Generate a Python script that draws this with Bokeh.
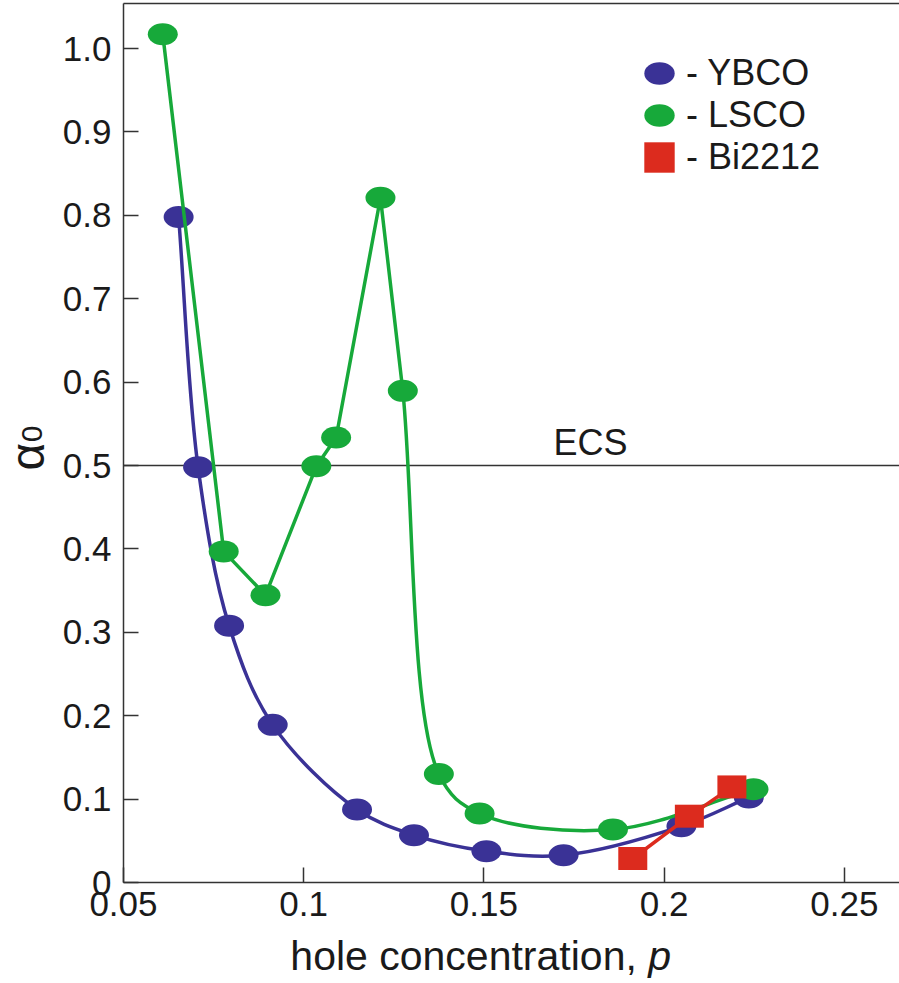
import numpy as np
from bokeh.plotting import figure
from bokeh.models import Range1d, FixedTicker, Label, Legend, LegendItem
from bokeh.embed import file_html
from bokeh.resources import INLINE

# --- data -------------------------------------------------------------
ybco_p = [0.0653, 0.0707, 0.0793, 0.0914, 0.1148, 0.1306, 0.1507, 0.1721, 0.2048, 0.2235]
ybco_a = [0.798, 0.498, 0.308, 0.189, 0.0875, 0.0567, 0.0375, 0.0327, 0.0675, 0.102]

lsco_p = [0.0609, 0.0778, 0.0894, 0.1035, 0.1090, 0.1213, 0.1275, 0.1375, 0.1488, 0.1858, 0.2248]
lsco_a = [1.017, 0.397, 0.3445, 0.499, 0.5336, 0.821, 0.5895, 0.130, 0.0827, 0.0635, 0.1119]
lsco_smooth_from = 6  # index where the LSCO trace turns into a smooth curve

bi_p = [0.1913, 0.2070, 0.2188]
bi_a = [0.0288, 0.0795, 0.1146]

ecs_level = 0.5

x_ticks = [0.05, 0.1, 0.15, 0.2, 0.25]
x_tick_labels = ["0.05", "0.1", "0.15", "0.2", "0.25"]
y_ticks = [0.0, 0.1, 0.2, 0.3, 0.4, 0.5, 0.6, 0.7, 0.8, 0.9, 1.0]
y_tick_labels = ["0", "0.1", "0.2", "0.3", "0.4", "0.5", "0.6", "0.7", "0.8", "0.9", "1.0"]

# --- style ------------------------------------------------------------
FONT = "Liberation Sans"
BLUE = "#3a3296"
GREEN = "#17a93a"
RED = "#dc2b1e"
INK = "#333333"
TEXT = "#1a1a1a"

# plotting box in data units; the canvas also holds the tick labels and titles
BOX_X = (0.05, 0.2653)
BOX_Y = (0.0, 1.054)
W, H = 899, 983
X0, X1 = 0.05 - 123 / 3605, BOX_X[1]
Y0, Y1 = -101 / 834, 882 / 834

p = figure(frame_width=W, frame_height=H,
           min_border_left=0, min_border_right=0,
           min_border_top=0, min_border_bottom=0,
           x_range=Range1d(X0, X1), y_range=Range1d(Y0, Y1),
           output_backend="svg", toolbar_location=None)
p.xgrid.visible = False
p.ygrid.visible = False
p.outline_line_color = None
p.background_fill_color = "white"
p.border_fill_color = "white"

for ax, ticks, labels, bounds in ((p.xaxis[0], x_ticks, x_tick_labels, BOX_X),
                                  (p.yaxis[0], y_ticks, y_tick_labels, BOX_Y)):
    ax.ticker = FixedTicker(ticks=ticks)
    ax.major_label_overrides = {t: l for t, l in zip(ticks, labels)}
    ax.bounds = bounds
    ax.axis_line_color = INK
    ax.axis_line_width = 1.5
    ax.major_tick_line_color = INK
    ax.major_tick_line_width = 1.5
    ax.major_tick_in = 15
    ax.major_tick_out = 0
    ax.minor_tick_line_color = None
    ax.major_label_text_font = FONT
    ax.major_label_text_font_size = "35px"
    ax.major_label_text_color = TEXT
p.xaxis.fixed_location = BOX_Y[0]
p.yaxis.fixed_location = BOX_X[0]
p.xaxis.major_label_standoff = 9
p.yaxis.major_label_standoff = 12

# top edge of the box (no right-hand edge)
p.segment(x0=[BOX_X[0]], x1=[BOX_X[1]], y0=[BOX_Y[1]], y1=[BOX_Y[1]],
          line_color=INK, line_width=1.5)


def smooth_path(xs, ys, lead=None):
    """Centripetal Catmull-Rom through the points, as cubic Bezier pieces."""
    sx = W / (X1 - X0)
    sy = H / (Y1 - Y0)
    P = np.column_stack([np.asarray(xs) * sx, np.asarray(ys) * sy])
    before = 2 * P[0] - P[1] if lead is None else np.array([lead[0] * sx, lead[1] * sy])
    after = 2 * P[-1] - P[-2]
    E = np.vstack([before, P, after])
    seg = {k: [] for k in ("x0", "y0", "x1", "y1", "cx0", "cy0", "cx1", "cy1")}
    for i in range(1, len(E) - 2):
        p0, p1, p2, p3 = E[i - 1], E[i], E[i + 1], E[i + 2]
        d1 = np.linalg.norm(p1 - p0) ** 0.5
        d2 = np.linalg.norm(p2 - p1) ** 0.5
        d3 = np.linalg.norm(p3 - p2) ** 0.5
        b1 = (d1**2 * p2 - d2**2 * p0 + (2 * d1**2 + 3 * d1 * d2 + d2**2) * p1) / (3 * d1 * (d1 + d2))
        b2 = (d3**2 * p1 - d2**2 * p3 + (2 * d3**2 + 3 * d3 * d2 + d2**2) * p2) / (3 * d3 * (d3 + d2))
        for key, pt in (("0", p1), ("1", p2)):
            seg["x" + key].append(pt[0] / sx)
            seg["y" + key].append(pt[1] / sy)
        seg["cx0"].append(b1[0] / sx)
        seg["cy0"].append(b1[1] / sy)
        seg["cx1"].append(b2[0] / sx)
        seg["cy1"].append(b2[1] / sy)
    return seg


# ECS reference line across the box
p.segment(x0=[BOX_X[0]], x1=[BOX_X[1]], y0=[ecs_level], y1=[ecs_level],
          line_color=INK, line_width=1.5)
p.add_layout(Label(x=0.1693, y=0.527, text="ECS", text_baseline="alphabetic",
                   text_font=FONT, text_font_size="36px", text_color=TEXT))

# YBCO
p.bezier(line_color=BLUE, line_width=3.5, **smooth_path(ybco_p, ybco_a))
r_ybco = p.ellipse(ybco_p, ybco_a, width=30, height=22, width_units="screen",
                   height_units="screen", fill_color=BLUE, line_color=None)

# LSCO: straight segments up to the peak region, then a smooth tail
k = lsco_smooth_from
p.line(lsco_p[:k + 1], lsco_a[:k + 1], line_color=GREEN, line_width=3.5, line_join="round")
p.bezier(line_color=GREEN, line_width=3.5,
         **smooth_path(lsco_p[k:], lsco_a[k:], lead=(lsco_p[k - 1], lsco_a[k - 1])))
r_lsco = p.ellipse(lsco_p, lsco_a, width=30, height=22, width_units="screen",
                   height_units="screen", fill_color=GREEN, line_color=None)

# Bi2212
p.line(bi_p, bi_a, line_color=RED, line_width=3.5)
r_bi = p.rect(bi_p, bi_a, width=29, height=23, width_units="screen",
              height_units="screen", fill_color=RED, line_color=None)

legend = Legend(items=[LegendItem(label="- YBCO", renderers=[r_ybco]),
                       LegendItem(label="- LSCO", renderers=[r_lsco]),
                       LegendItem(label="- Bi2212", renderers=[r_bi])],
                location=(640, 805), glyph_width=38, glyph_height=38,
                label_standoff=8, spacing=0, padding=0, margin=0,
                border_line_color=None, background_fill_alpha=0,
                label_text_font=FONT, label_text_font_size="36px",
                label_text_color=TEXT)
p.add_layout(legend)

# axis titles
p.add_layout(Label(x=0.0963, y=-0.0887, text="hole concentration,", text_baseline="alphabetic",
                   text_font=FONT, text_font_size="41px", text_color=TEXT))
p.add_layout(Label(x=0.1956, y=-0.0887, text="p", text_baseline="alphabetic",
                   text_font=FONT, text_font_style="italic", text_font_size="41px",
                   text_color=TEXT))
p.add_layout(Label(x=0.0234, y=0.494, text="α", angle=np.pi / 2, text_baseline="alphabetic",
                   text_font=FONT, text_font_size="48px", text_color=TEXT))
p.add_layout(Label(x=0.0245, y=0.528, text="0", angle=np.pi / 2, text_baseline="alphabetic",
                   text_font=FONT, text_font_size="30px", text_color=TEXT))

open("out.html", "w").write(file_html(p, INLINE))
